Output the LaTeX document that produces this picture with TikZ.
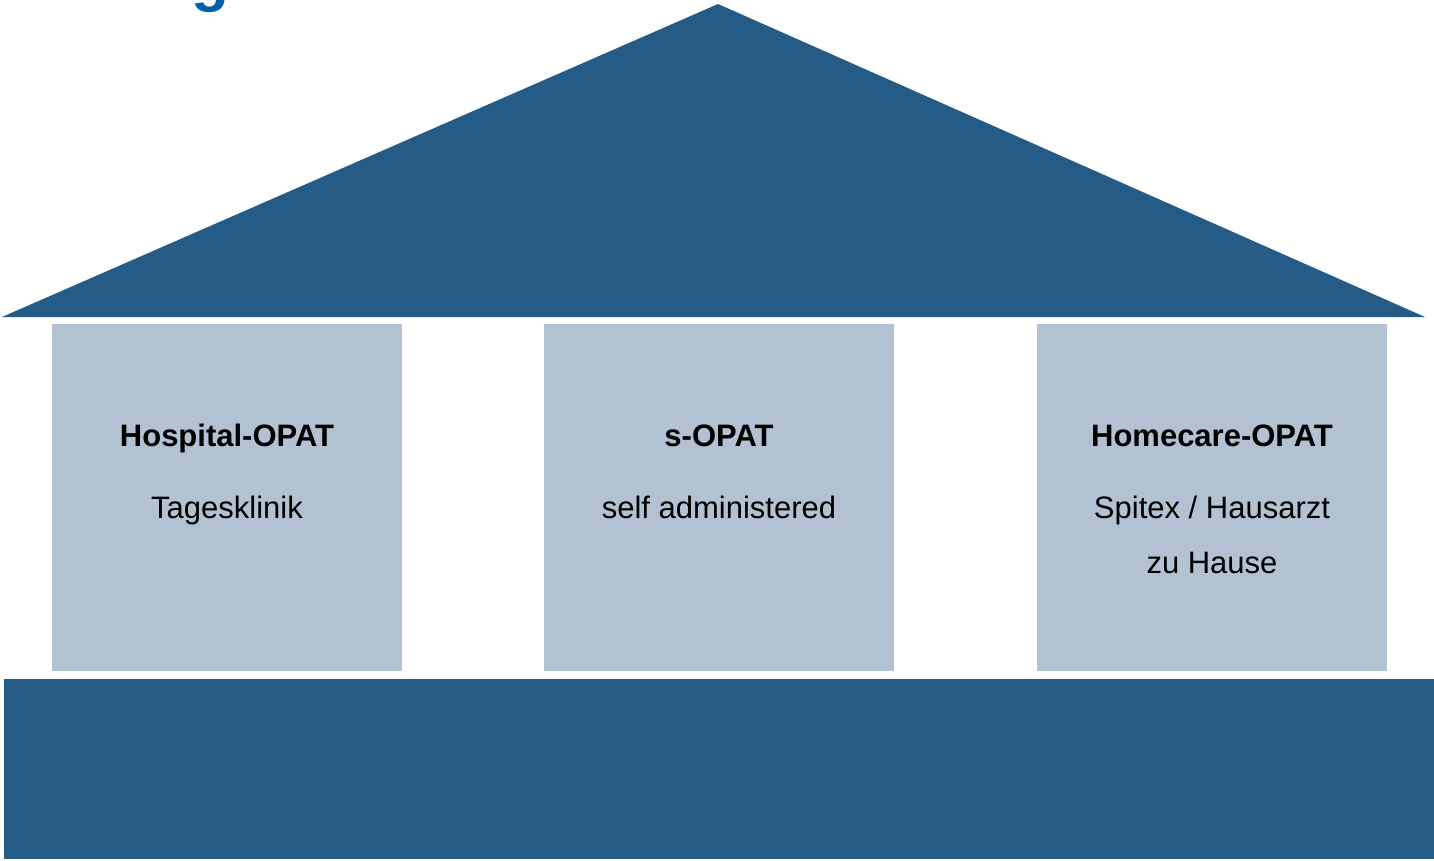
\documentclass[tikz,border=0pt]{standalone}
\usepackage{fontspec}
\setmainfont{Liberation Sans}

\definecolor{roofblue}{RGB}{37,91,135}
\definecolor{pillarblue}{RGB}{178,194,210}
\definecolor{titleblue}{RGB}{0,94,170}

\tikzset{every node/.style={font=\fontsize{31}{36}\selectfont, inner sep=0pt},
         pillar/.style={fill=pillarblue, minimum width=350pt, minimum height=347pt},
         head/.style={anchor=base, font=\bfseries\fontsize{31}{36}\selectfont},
         sub/.style={anchor=base}}

\begin{document}
\begin{tikzpicture}[x=1pt,y=-1pt]
    \useasboundingbox (0,0) rectangle (1434,860);

    % cut-off heading above the roof
    \node[anchor=base, text=titleblue, font=\bfseries\fontsize{62}{62}\selectfont] (title) at (210,-1) {g};

    % roof and base
    \fill[roofblue] (718,4) -- (1425,317) -- (2,317) -- cycle;
    \fill[roofblue] (4,679) rectangle (1434,859);

    % the three pillars
    \foreach \x/\p in {227/hosp,719/sopat,1212/home}{
        \node[pillar] (\p) at (\x,497.5) {};
    }

    \node[head] (hospHead) at (227,446) {Hospital-OPAT};
    \node[sub]  (hospSub)  at (227,518) {Tagesklinik};

    \node[head] (sopatHead) at (719,446) {s-OPAT};
    \node[sub]  (sopatSub)  at (719,518) {self administered};

    \node[head] (homeHead) at (1212,446) {Homecare-OPAT};
    \node[sub]  (homeSub)  at (1212,518) {Spitex / Hausarzt};
    \node[sub]  (homeSub2) at (1212,573) {zu Hause};
\end{tikzpicture}
\end{document}
